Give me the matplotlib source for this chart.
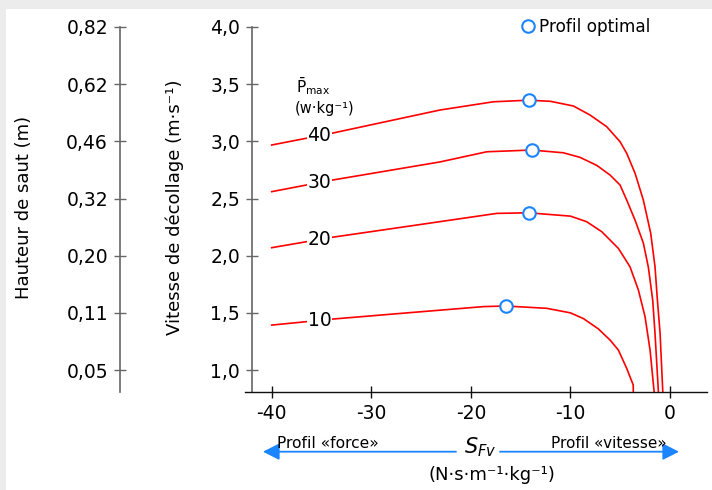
#!/usr/bin/env python3
"""Vitesse de décollage en fonction du profil force-vitesse (S_Fv)."""

import numpy as np
import matplotlib.pyplot as plt
from matplotlib.patches import Rectangle

plt.rcParams['font.family'] = ['DejaVu Sans']

# curves: S_Fv (N.s/m/kg) vs take-off velocity (m/s)
pmax_levels = ["10", "20", "30", "40"]
sfv_10 = [-40, -34, -26.4, -18.7, -16.5, -12.4, -10.0, -8.7, -7.2, -6.02, -5.19,
          -4.35, -3.7, -3.68]
v_10 = [1.393, 1.445, 1.50, 1.555, 1.56, 1.54, 1.50, 1.45, 1.36, 1.262, 1.175,
        1.014, 0.87, 0.75]
sfv_20 = [-40, -34, -26.4, -17.4, -14.2, -10.0, -8.37, -6.86, -5.19, -4.02, -3.18,
          -2.51, -2.0, -1.6, -1.55]
v_20 = [2.07, 2.16, 2.256, 2.37, 2.375, 2.346, 2.297, 2.21, 2.064, 1.903, 1.70,
        1.466, 1.17, 0.81, 0.75]
sfv_30 = [-40, -34, -23.1, -18.4, -13.9, -10.71, -9.04, -7.36, -6.02, -5.02, -4.35,
          -3.51, -2.68, -2.18, -1.74, -1.51, -1.17, -1.1]
v_30 = [2.56, 2.66, 2.82, 2.909, 2.924, 2.90, 2.86, 2.79, 2.705, 2.618, 2.486,
        2.31, 2.11, 1.90, 1.61, 1.32, 0.81, 0.75]
sfv_40 = [-40, -34, -23.1, -17.74, -14.2, -12, -9.7, -8.03, -6.36, -5.02, -4.35,
          -3.51, -2.68, -1.94, -1.51, -1.27, -1.0, -0.73, -0.7]
v_40 = [2.968, 3.07, 3.274, 3.346, 3.36, 3.35, 3.309, 3.23, 3.128, 2.997, 2.895,
        2.72, 2.486, 2.195, 1.903, 1.612, 1.32, 0.81, 0.75]
curves = [(sfv_10, v_10), (sfv_20, v_20), (sfv_30, v_30), (sfv_40, v_40)]

# optimal profiles
opt_sfv = [-16.5, -14.2, -13.9, -14.2]
opt_v = [1.56, 2.375, 2.924, 3.36]

label_sfv = -35.2

v_ticks = [1.0, 1.5, 2.0, 2.5, 3.0, 3.5, 4.0]
v_labels = ["1,0", "1,5", "2,0", "2,5", "3,0", "3,5", "4,0"]
h_labels = ["0,05", "0,11", "0,20", "0,32", "0,46", "0,62", "0,82"]
x_ticks = [-40, -30, -20, -10, 0]
x_labels = ["-40", "-30", "-20", "-10", "0"]

W, H = 712, 490
fig = plt.figure(figsize=(W / 100, H / 100), dpi=100)
fig.patch.set_facecolor('#ececec')
fig.patches.append(Rectangle((6 / W, 0), 1, 1 - 9 / H, transform=fig.transFigure,
                             facecolor='white', edgecolor='none', zorder=-10))

ax = fig.add_axes([245 / W, 1 - 392 / H, (707 - 245) / W, (392 - 27) / H])
ax.set_facecolor('none')
ax.set_xlim(-42.68, 3.71)
ax.set_ylim(0.808, 4.0)

for (xs, ys), lev in zip(curves, pmax_levels):
    ax.plot(xs, ys, color='#ff0000', lw=1.2, zorder=2)
    ax.text(label_sfv, np.interp(label_sfv, xs, ys), lev, fontsize=13.5,
            ha='center', va='center', zorder=3,
            bbox=dict(facecolor='white', edgecolor='none', pad=0.5))

ax.plot(opt_sfv, opt_v, 'o', ls='none', ms=9, mfc='white', mec='#1a85ff',
        mew=1.5, zorder=4, label='Profil optimal')

for s in ['top', 'right']:
    ax.spines[s].set_visible(False)
ax.spines['left'].set_position(('axes', 7 / 462))
ax.spines['left'].set_color('#666666')
ax.spines['left'].set_linewidth(1.2)
ax.spines['bottom'].set_color('#111111')
ax.spines['bottom'].set_linewidth(1.0)

ax.set_yticks(v_ticks, labels=v_labels)
ax.set_xticks(x_ticks, labels=x_labels)
ax.tick_params(axis='y', direction='inout', length=9, width=1.0, color='#666666',
               labelsize=13.5, pad=4)
ax.tick_params(axis='x', direction='inout', length=9, width=1.0, color='#111111',
               labelsize=13.5, pad=4)

sec = ax.secondary_yaxis(-(252 - 126.7) / 462)
sec.set_yticks(v_ticks, labels=h_labels)
sec.spines['left'].set_color('#666666')
sec.spines['left'].set_linewidth(1.2)
sec.tick_params(axis='y', direction='inout', length=9, width=1.0, color='#666666',
                labelsize=13.5, pad=4)

fig.text(24 / W, 1 - 207 / H, "Hauteur de saut (m)", rotation=90, fontsize=13,
         ha='center', va='center')
fig.text(175 / W, 1 - 207 / H, "Vitesse de décollage (m·s⁻¹)", rotation=90,
         fontsize=13, ha='center', va='center')

fig.text(296 / W, 1 - 86 / H, r'$\bar{\mathrm{P}}_{\mathrm{max}}$', fontsize=11,
         ha='left', va='center')
fig.text(295 / W, 1 - 109 / H, "(w·kg⁻¹)", fontsize=10.5, ha='left', va='center')

ax.legend(loc='center left', bbox_to_anchor=(520 / W, 1 - 27 / H),
          bbox_transform=fig.transFigure, frameon=False, fontsize=12.2,
          handlelength=0.9, handletextpad=0.25, borderpad=0, borderaxespad=0)

# S_Fv arrows
ya = 1 - 451.7 / H
arrow = dict(arrowstyle='-|>,head_length=0.55,head_width=0.28', color='#1a85ff',
             lw=1.3, mutation_scale=18, shrinkA=0, shrinkB=0)
ax.annotate('', xy=(263 / W, ya), xytext=(456 / W, ya), xycoords='figure fraction',
            textcoords='figure fraction', arrowprops=arrow, annotation_clip=False)
ax.annotate('', xy=(679 / W, ya), xytext=(500 / W, ya), xycoords='figure fraction',
            textcoords='figure fraction', arrowprops=arrow, annotation_clip=False)
fig.text(277 / W, 1 - 443 / H, "Profil «force»", fontsize=11.2, ha='left', va='center')
fig.text(667 / W, 1 - 443 / H, "Profil «vitesse»", fontsize=11, ha='right', va='center')
fig.text(480 / W, 1 - 447 / H, r'$S_{Fv}$', fontsize=15, ha='center', va='center')
fig.text(492 / W, 1 - 475 / H, "(N·s·m⁻¹·kg⁻¹)", fontsize=13, ha='center', va='center')

fig.savefig('out.png', dpi=100, facecolor=fig.get_facecolor())
